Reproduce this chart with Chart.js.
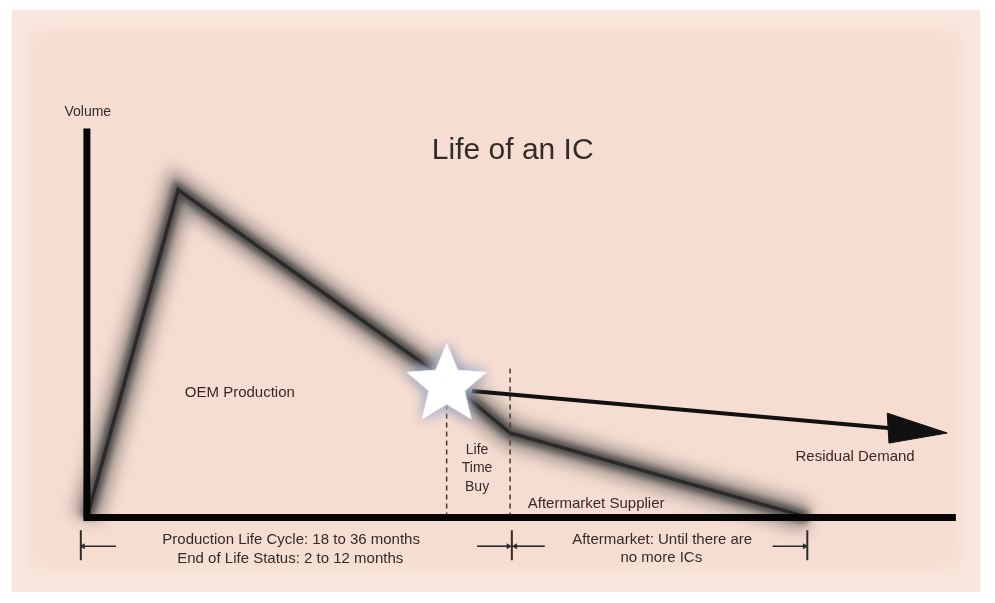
<!DOCTYPE html>
<html>
<head>
<meta charset="utf-8">
<script src="https://cdn.jsdelivr.net/npm/chart.js@4.4.0/dist/chart.umd.min.js"></script>
<style>
  html, body { margin: 0; padding: 0; background: #fff; }
</style>
</head>
<body>
<canvas id="c" width="995" height="603"></canvas>
<script>
// demand over the life of an IC (x: time, y: volume, arbitrary units)
const lifeX = [0, 10.5, 41.4, 48.7, 83]
const lifeY = [0, 84.2, 35.3, 21.7, 0]

// residual demand after the life time buy
const residualX = [44.3, 92.2]
const residualY = [32.5, 23.0]
const headX = [92.1, 99.0, 92.3, 92.1]
const headY = [26.8, 21.7, 19.1, 26.8]

// life time buy window (dashed lines)
const ltbX = [41.4, 48.7]
const ltbTop = [30.2, 39.2]

// the star (end of life notice)
const starX = [41.4]
const starY = [34.0]

// brackets under the time axis
const phaseEdges = [-0.7, 48.9, 82.9]
const phaseArrowTail = [3.35, 44.9, 52.7, 78.9]
const phaseArrowHead = [-0.45, 48.5, 49.3, 82.6]

// texts
const labelText = ['Volume', 'Life of an IC', 'OEM Production', 'Life', 'Time', 'Buy',
  'Residual Demand', 'Aftermarket Supplier',
  'Production Life Cycle: 18 to 36 months', 'End of Life Status: 2 to 12 months',
  'Aftermarket: Until there are', 'no more ICs']
const labelX = [0.1, 49.0, 17.6, 44.9, 44.9, 44.9, 88.4, 58.6, 23.5, 23.4, 66.2, 66.1]
const labelY = [104.2, 94.2, 32.0, 17.3, 12.7, 7.8, 15.5, 3.4, -5.8, -10.7, -5.8, -10.4]
const labelSize = [14, 30, 15, 14, 14, 14, 15, 15, 15, 15, 15, 15]

const zip = (xs, ys) => xs.map((x, i) => ({x: x, y: ys[i]}))

function makeStar(R){
    const size = Math.ceil(R * 2 + 40)
    const cv = document.createElement('canvas')
    cv.width = size
    cv.height = size
    const g = cv.getContext('2d')
    const cx = size / 2, cy = size / 2
    g.beginPath()
    for(let i = 0; i < 10; i++){
        const r = i % 2 ? R * 0.45 : R
        const a = -Math.PI / 2 + i * Math.PI / 5
        g.lineTo(cx + r * Math.cos(a), cy + r * Math.sin(a))
    }
    g.closePath()
    g.shadowColor = 'rgba(165,175,200,1)'
    g.shadowBlur = 14
    g.fillStyle = '#ffffff'
    g.fill()
    g.fill()
    g.shadowBlur = 0
    g.fill()
    return cv
}

const background = {
    id: 'background',
    beforeDraw(chart){
        const ctx = chart.ctx
        ctx.save()
        ctx.fillStyle = '#ffffff'
        ctx.fillRect(0, 0, chart.width, chart.height)
        ctx.fillStyle = '#f9e7de'
        ctx.fillRect(12, 10, 968, 582)
        ctx.filter = 'blur(8px)'
        ctx.fillStyle = '#f6ddd1'
        ctx.fillRect(30, 30, 930, 540)
        ctx.restore()
    }
}

// soft blur for the glow under the curve
const glow = {
    id: 'glow',
    beforeDatasetDraw(chart, args){
        const b = chart.data.datasets[args.index].blur
        if(b){
            chart.ctx.save()
            chart.ctx.filter = 'blur(' + b + 'px)'
        }
    },
    afterDatasetDraw(chart, args){
        if(chart.data.datasets[args.index].blur) chart.ctx.restore()
    }
}

const texts = {
    id: 'texts',
    afterDatasetsDraw(chart){
        const ctx = chart.ctx
        const xs = chart.scales.x, ys = chart.scales.y
        ctx.save()
        ctx.fillStyle = '#332b29'
        ctx.textAlign = 'center'
        ctx.textBaseline = 'middle'
        labelText.forEach((t, i) => {
            ctx.font = labelSize[i] + 'px "Liberation Sans", Arial, sans-serif'
            ctx.fillText(t, xs.getPixelForValue(labelX[i]), ys.getPixelForValue(labelY[i]))
        })
        ctx.restore()
    }
}

const line = (data, extra) => Object.assign({
    data: data, showLine: true, pointRadius: 0, borderColor: '#111', borderWidth: 2, fill: false
}, extra)

const datasets = [
    // star on top
    line(zip(starX, starY), {showLine: false, pointRadius: 1, pointStyle: makeStar(42), order: 0}),
    // axes
    line([{x: 0, y: 0}, {x: 0, y: 100}], {borderColor: '#050505', borderWidth: 7, order: 2}),
    line([{x: -0.4, y: 0}, {x: 100, y: 0}], {borderColor: '#050505', borderWidth: 7, order: 2}),
    // residual demand arrow
    line(zip(headX, headY), {borderWidth: 1, backgroundColor: '#111', fill: 'shape', order: 3}),
    line(zip(residualX, residualY), {borderWidth: 4, order: 3}),
    // life curve core + glow
    line(zip(lifeX, lifeY), {borderColor: '#2a2a2a', borderWidth: 3.5, borderJoinStyle: 'miter', order: 4}),
    line(zip(lifeX, lifeY), {borderColor: 'rgba(50,50,50,0.75)', borderWidth: 12, blur: 3, order: 6}),
    line(zip(lifeX, lifeY), {borderColor: 'rgba(80,80,80,0.55)', borderWidth: 28, blur: 8, order: 7})
]

ltbX.forEach((x, i) => {
    datasets.push(line([{x: x, y: 0}, {x: x, y: ltbTop[i]}],
        {borderColor: '#4a3830', borderWidth: 1.5, borderDash: [5, 4], order: 5}))
})
phaseEdges.forEach(x => {
    datasets.push(line([{x: x, y: -3.3}, {x: x, y: -11}], {borderColor: '#2c2c2c', borderWidth: 2, order: 1}))
})
phaseArrowTail.forEach((x, i) => {
    const h = phaseArrowHead[i]
    datasets.push(line([{x: x, y: -7.4}, {x: h, y: -7.4}], {
        borderColor: '#2c2c2c', borderWidth: 1.6, order: 1,
        pointRadius: [0, 3.5], pointStyle: 'triangle', pointBackgroundColor: '#2c2c2c',
        pointBorderWidth: 0, pointRotation: h > x ? 90 : -90
    }))
})

new Chart(document.getElementById('c'), {
    type: 'scatter',
    data: {datasets: datasets},
    options: {
        responsive: false,
        animation: false,
        events: [],
        layout: {padding: 0, autoPadding: false},
        scales: {
            x: {type: 'linear', min: -10, max: 104.5, display: false},
            y: {type: 'linear', min: -22, max: 133, display: false}
        },
        plugins: {legend: {display: false}, tooltip: {enabled: false}}
    },
    plugins: [background, glow, texts]
})
</script>
</body>
</html>
